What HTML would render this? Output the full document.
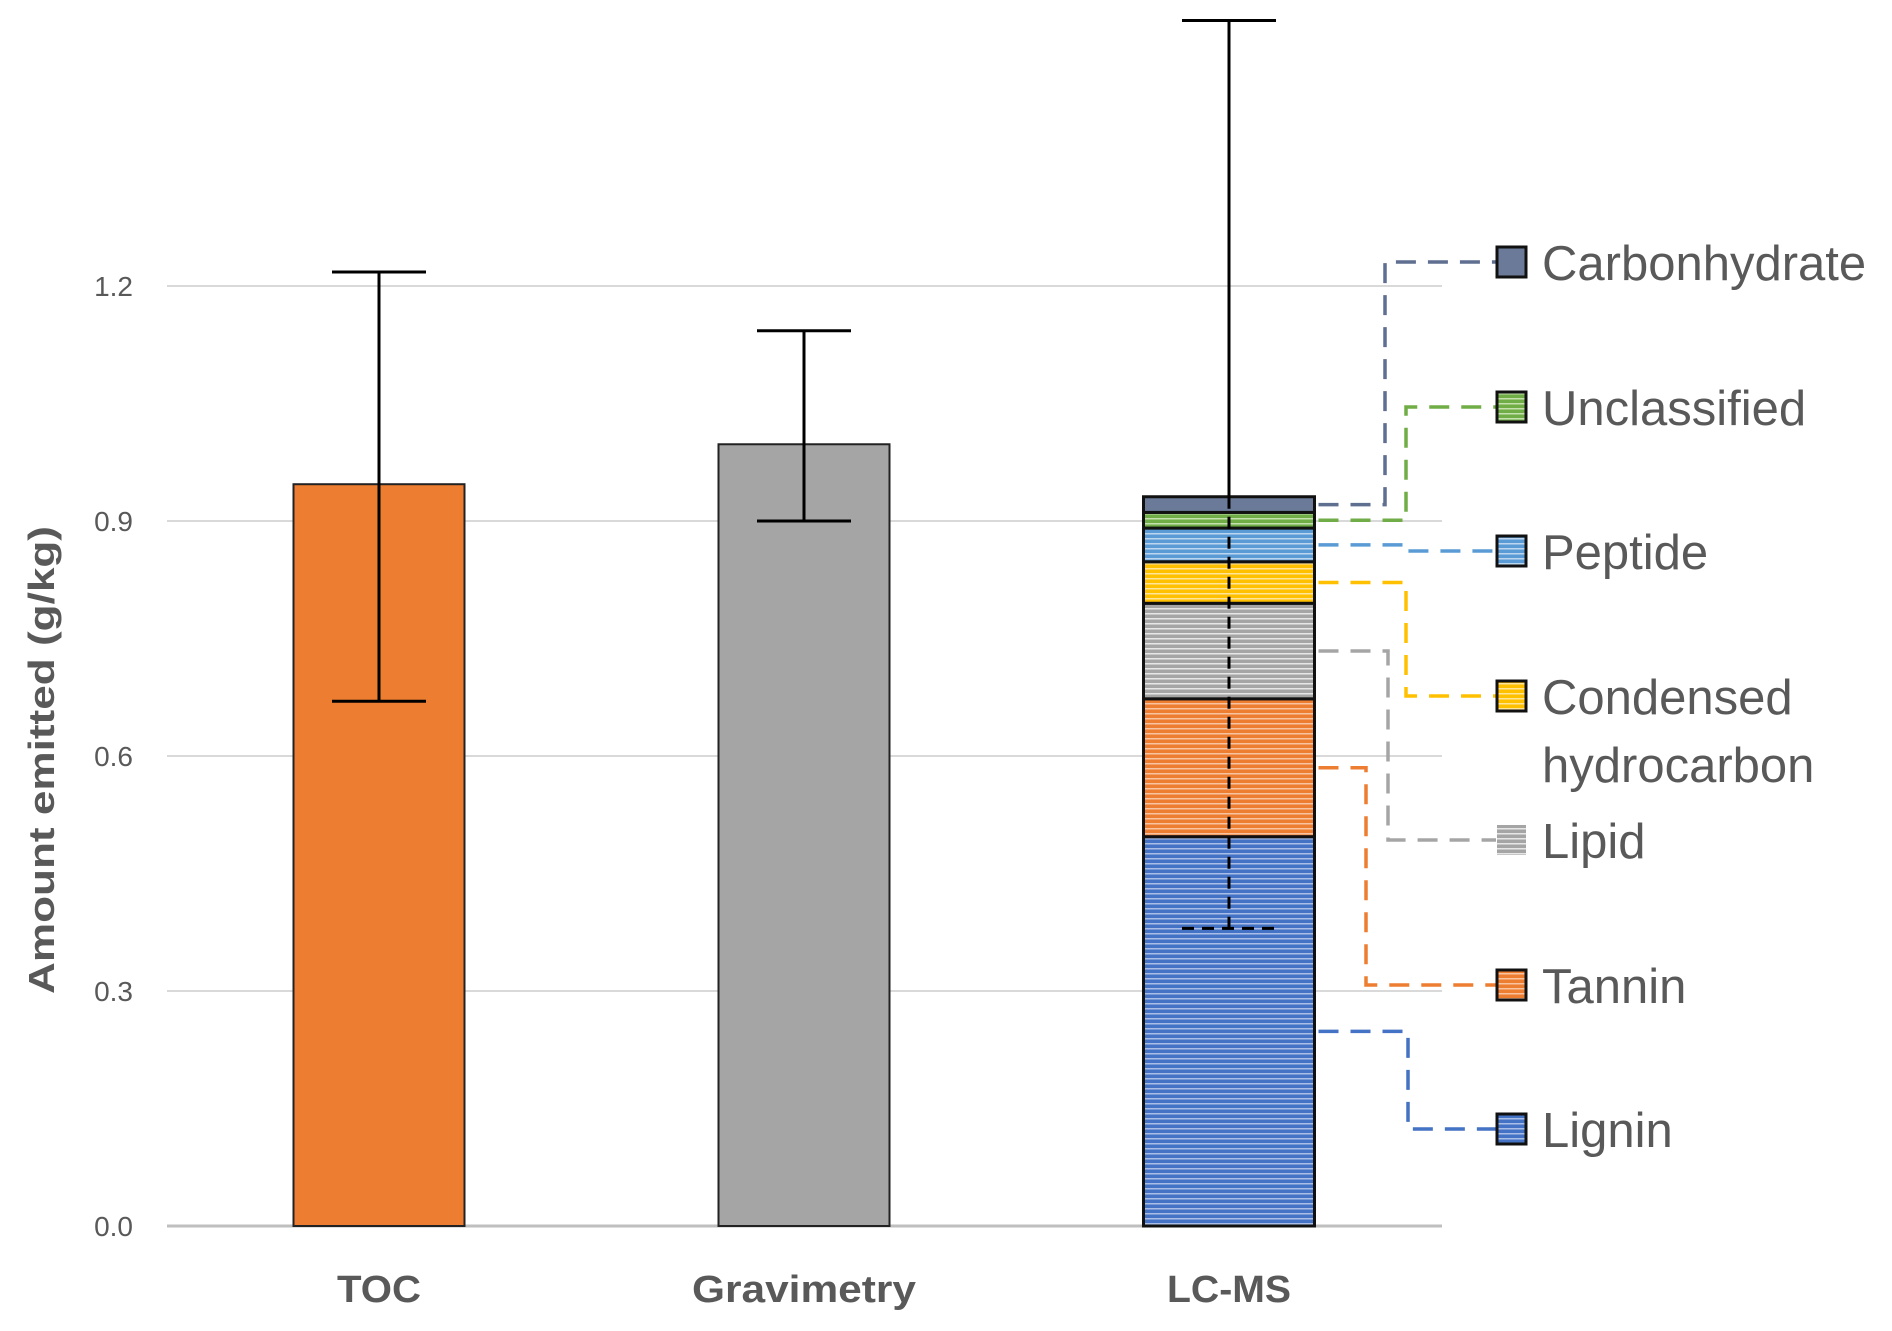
<!DOCTYPE html>
<html><head><meta charset="utf-8"><style>
html,body{margin:0;padding:0;background:#fff;}
svg{display:block;font-family:"Liberation Sans",sans-serif;}
</style></head><body>
<svg id="chart" width="1892" height="1331" viewBox="0 0 1892 1331">
<defs>
<pattern id="h-blue" width="6" height="5" patternUnits="userSpaceOnUse"><rect width="6" height="5" fill="#4472C4"/><rect y="3" width="6" height="1.5" fill="#a9bde6"/></pattern>
<pattern id="h-orange" width="6" height="5" patternUnits="userSpaceOnUse"><rect width="6" height="5" fill="#ED7D31"/><rect y="3" width="6" height="1.5" fill="#f7c3a0"/></pattern>
<pattern id="h-gray" width="6" height="5" patternUnits="userSpaceOnUse"><rect width="6" height="5" fill="#A5A5A5"/><rect y="3" width="6" height="1.5" fill="#e6e6e6"/></pattern>
<pattern id="h-yellow" width="6" height="5" patternUnits="userSpaceOnUse"><rect width="6" height="5" fill="#FFC000"/><rect y="3" width="6" height="1.5" fill="#ffe59a"/></pattern>
<pattern id="h-lblue" width="6" height="5" patternUnits="userSpaceOnUse"><rect width="6" height="5" fill="#5B9BD5"/><rect y="3" width="6" height="1.5" fill="#bcd6ef"/></pattern>
<pattern id="h-green" width="6" height="5" patternUnits="userSpaceOnUse"><rect width="6" height="5" fill="#70AD47"/><rect y="3" width="6" height="1.5" fill="#c3e0ae"/></pattern>
<pattern id="h-slate" width="6" height="5" patternUnits="userSpaceOnUse"><rect width="6" height="5" fill="#6b7a98"/></pattern>
</defs>
<g id="grid"></g>
<g id="bars"></g>
<g id="legend"></g>
<text x="0" y="0" transform="translate(54,760) rotate(-90)" text-anchor="middle" font-size="36" font-weight="bold" fill="#595959" textLength="468" lengthAdjust="spacingAndGlyphs">Amount emitted (g/kg)</text>
</svg>
<script>
const yTicks = [0.0, 0.3, 0.6, 0.9, 1.2];
const yTickLabels = ["0.0", "0.3", "0.6", "0.9", "1.2"];
const categories = ["TOC", "Gravimetry", "LC-MS"];
const totals = [0.947, 0.998, null];
const errLow = [0.670, 0.9, 0.380];
const errHigh = [1.218, 1.143, 1.539];
const stackNames = ["Lignin", "Tannin", "Lipid", "Condensed hydrocarbon", "Peptide", "Unclassified", "Carbonhydrate"];
const stackValues = [0.497, 0.176, 0.122, 0.053, 0.043, 0.020, 0.020];

const NS = "http://www.w3.org/2000/svg";
const X0 = 167, X1 = 1442, Y0 = 1226, YPER = 783.3;
const y = v => Y0 - v * YPER;
const barW = 171;
const xc = i => 379 + i * 425;
function mk(tag, attrs, parent) {
  const e = document.createElementNS(NS, tag);
  for (const k in attrs) e.setAttribute(k, attrs[k]);
  parent.appendChild(e);
  return e;
}
const grid = document.getElementById('grid');
const bars = document.getElementById('bars');
const legend = document.getElementById('legend');

yTicks.forEach((t, i) => {
  if (i > 0) {
    const l = mk('line', {x1: X0, x2: X1, y1: y(t), y2: y(t), stroke: '#d9d9d9', 'stroke-width': 2}, grid);
    
    
  }
  const tx = mk('text', {x: 133, y: y(t) + 10, 'text-anchor': 'end', 'font-size': 28, fill: '#595959'}, grid);
  tx.textContent = yTickLabels[i];
  
  
});

const fills = ['#ED7D31', '#A5A5A5'];
const xLabW = [84, 224, 124];
categories.forEach((c, i) => {
  const cx = xc(i);
  if (totals[i] !== null) {
    const r = mk('rect', {x: cx - barW / 2, y: y(totals[i]), width: barW, height: Y0 - y(totals[i]), fill: fills[i], stroke: '#222', 'stroke-width': 2}, bars);
    
    
  }
  const lb = mk('text', {x: cx, y: 1302, 'text-anchor': 'middle', 'font-size': 38, 'font-weight': 'bold', fill: '#595959', textLength: xLabW[i], lengthAdjust: 'spacingAndGlyphs'}, bars);
  lb.textContent = c;
  
  
});

const sFills = ['url(#h-blue)', 'url(#h-orange)', 'url(#h-gray)', 'url(#h-yellow)', 'url(#h-lblue)', 'url(#h-green)', 'url(#h-slate)'];
const lineCol = ['#4472C4', '#ED7D31', '#A5A5A5', '#FFC000', '#5B9BD5', '#70AD47', '#5f6f8f'];
const legY = [1129, 985, 840, 696, 551, 407, 262];
const elbowX = [1408, 1366, 1388, 1406, 1406, 1406, 1385];
let acc = 0;
const cx2 = xc(2);
const mids = [];
stackValues.forEach((v, k) => {
  const top = acc + v;
  const r = mk('rect', {x: cx2 - barW / 2, y: y(top), width: barW, height: y(acc) - y(top), fill: sFills[k], stroke: '#111', 'stroke-width': 3}, bars);
  
  
  mids.push(y(acc + v / 2));
  acc = top;
});
categories.forEach((c, i) => {
  const cx = xc(i);
  const g = mk('g', {stroke: '#000', 'stroke-width': 3}, bars);
  
  
  if (i === 2) {
    mk('line', {x1: cx, x2: cx, y1: y(errHigh[i]), y2: y(acc)}, g);
    mk('line', {x1: cx, x2: cx, y1: y(acc), y2: y(errLow[i]), 'stroke-dasharray': '12,8'}, g);
    mk('line', {x1: cx - 47, x2: cx + 47, y1: y(errHigh[i]), y2: y(errHigh[i])}, g);
    mk('line', {x1: cx - 47, x2: cx + 47, y1: y(errLow[i]), y2: y(errLow[i]), 'stroke-dasharray': '12,8'}, g);
  } else {
    mk('line', {x1: cx, x2: cx, y1: y(errHigh[i]), y2: y(errLow[i])}, g);
    mk('line', {x1: cx - 47, x2: cx + 47, y1: y(errHigh[i]), y2: y(errHigh[i])}, g);
    mk('line', {x1: cx - 47, x2: cx + 47, y1: y(errLow[i]), y2: y(errLow[i])}, g);
  }
});
const ax = mk('line', {x1: X0, x2: X1, y1: Y0, y2: Y0, stroke: '#bfbfbf', 'stroke-width': 3}, grid);



stackNames.forEach((n, k) => {
  const ly = legY[k];
  const pl = mk('polyline', {points: `${cx2 + barW / 2 + 4},${mids[k]} ${elbowX[k]},${mids[k]} ${elbowX[k]},${ly} 1496,${ly}`, fill: 'none', stroke: lineCol[k], 'stroke-width': 3.5, 'stroke-dasharray': '20,12'}, legend);
  
  
  const b = mk('rect', {x: 1497, y: ly - 15, width: 29, height: 30, fill: sFills[k], stroke: k === 2 ? 'none' : '#111', 'stroke-width': 3}, legend);
  
  
  const lines = n === 'Condensed hydrocarbon' ? ['Condensed', 'hydrocarbon'] : [n];
  lines.forEach((s, j) => {
    const t = mk('text', {x: 1542, y: ly + 18 + j * 68, 'font-size': 49, fill: '#595959'}, legend);
    t.textContent = s;
    
    
  });
});
</script>
</body></html>
